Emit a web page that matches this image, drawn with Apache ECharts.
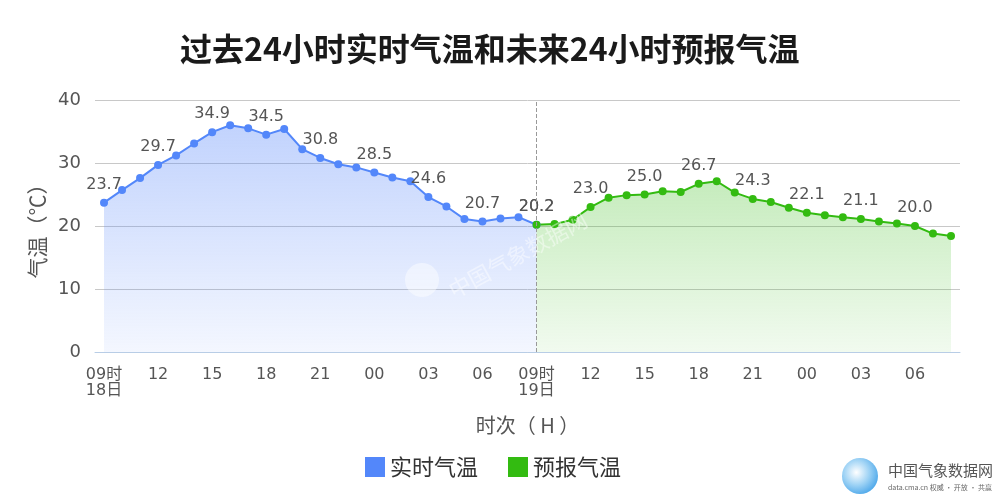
<!DOCTYPE html>
<html>
<head>
<meta charset="utf-8">
<script src="https://cdn.jsdelivr.net/npm/echarts@6/dist/echarts.min.js"></script>
<style>
  html, body { margin: 0; padding: 0; background: #fff; }
  #main { width: 1000px; height: 500px; }
</style>
</head>
<body>
<div id="main"></div>
<script>
// hour labels, 09 on the 18th through 08 on the 20th
var hours = ['09时\n18日', '10', '11', '12', '13', '14', '15', '16', '17', '18', '19', '20', '21', '22', '23',
    '00', '01', '02', '03', '04', '05', '06', '07', '08',
    '09时\n19日', '10', '11', '12', '13', '14', '15', '16', '17', '18', '19', '20', '21', '22', '23',
    '00', '01', '02', '03', '04', '05', '06', '07', '08'];
// observed temperatures (past 24 h)
var pastTemp = [23.7, 25.7, 27.6, 29.7, 31.2, 33.1, 34.9, 36.0, 35.5, 34.5, 35.4, 32.2, 30.8,
    29.8, 29.3, 28.5, 27.7, 27.1, 24.6, 23.1, 21.1, 20.7, 21.2, 21.4, 20.2];
// forecast temperatures (next 24 h), starting at the 09 19日 point
var forecastTemp = [20.2, 20.3, 21.0, 23.0, 24.5, 24.9, 25.0, 25.5, 25.4, 26.7, 27.1, 25.3,
    24.3, 23.8, 22.9, 22.1, 21.7, 21.4, 21.1, 20.7, 20.4, 20.0, 18.8, 18.4];
var yTicks = [0, 10, 20, 30, 40];

var font = "'DejaVu Sans', 'Noto Sans CJK SC', sans-serif";
var cjk = "'Noto Sans CJK SC', sans-serif";

var pastData = pastTemp.slice()
while (pastData.length < hours.length) pastData.push(null)
var forecastData = []
for (var i = 0; i < hours.length - forecastTemp.length; i++) forecastData.push(null)
forecastData = forecastData.concat(forecastTemp)
var splitIndex = hours.length - forecastTemp.length

function everyThird(p) {
    return p.dataIndex % 3 === 0 ? p.value.toFixed(1) : ''
}

var chart = echarts.init(document.getElementById('main'));
chart.setOption({
    animation: false,
    title: {
        text: '过去24小时实时气温和未来24小时预报气温',
        left: 175,
        top: 28,
        textStyle: { fontFamily: cjk, fontSize: 32, fontWeight: 'bold', color: '#1a1a1a' }
    },
    legend: {
        bottom: 17,
        left: 360,
        itemWidth: 20,
        itemHeight: 20,
        itemGap: 30,
        icon: 'rect',
        textStyle: { fontFamily: cjk, fontSize: 22, color: '#333' },
        data: ['实时气温', '预报气温']
    },
    grid: { left: 95, right: 40, top: 100, bottom: 148 },
    xAxis: {
        type: 'category',
        data: hours,
        boundaryGap: true,
        name: '时次（ H ）',
        nameLocation: 'middle',
        nameGap: 63,
        nameTextStyle: { fontFamily: cjk, fontSize: 20, color: '#555' },
        axisLine: { lineStyle: { color: '#b8cde6' } },
        axisTick: { alignWithLabel: true, interval: 2, length: 5, lineStyle: { color: '#b8cde6' } },
        axisLabel: {
            interval: 2, color: '#555', fontFamily: font, fontSize: 16, lineHeight: 16, margin: 15
        },
        splitLine: { show: false }
    },
    yAxis: {
        type: 'value',
        min: yTicks[0],
        max: yTicks[yTicks.length - 1],
        interval: 10,
        name: '气温（℃）',
        nameLocation: 'middle',
        nameGap: 42,
        nameTextStyle: { fontFamily: cjk, fontSize: 21, color: '#555' },
        axisLine: { show: false },
        axisTick: { show: false },
        axisLabel: { color: '#555', fontFamily: font, fontSize: 18, margin: 14 },
        splitLine: { lineStyle: { color: '#c8c8c8' } }
    },
    series: [
        {
            name: '实时气温',
            type: 'line',
            data: pastData,
            symbol: 'circle',
            symbolSize: 8,
            itemStyle: { color: '#5387fa' },
            lineStyle: { width: 2, color: '#5387fa' },
            label: {
                show: true, position: 'top', distance: 6, color: '#555',
                fontFamily: font, fontSize: 16, formatter: everyThird
            },
            areaStyle: {
                color: new echarts.graphic.LinearGradient(0, 0, 0, 1, [
                    { offset: 0, color: 'rgba(95,140,250,0.55)' },
                    { offset: 1, color: 'rgba(95,140,250,0.1)' }
                ])
            }
        },
        {
            name: '预报气温',
            type: 'line',
            data: forecastData,
            symbol: 'circle',
            symbolSize: 8,
            itemStyle: { color: '#33bb11' },
            lineStyle: { width: 2, color: '#33bb11' },
            label: {
                show: true, position: 'top', distance: 6, color: '#555',
                fontFamily: font, fontSize: 16, formatter: everyThird
            },
            areaStyle: {
                color: new echarts.graphic.LinearGradient(0, 0, 0, 1, [
                    { offset: 0, color: 'rgba(60,190,30,0.42)' },
                    { offset: 1, color: 'rgba(60,190,30,0.1)' }
                ])
            },
            markLine: {
                silent: true,
                symbol: 'none',
                label: { show: false },
                lineStyle: { color: '#999', type: 'dashed', width: 1 },
                data: [{ xAxis: splitIndex }]
            }
        }
    ],
    graphic: [
        // faint watermark in the plot
        {
            type: 'circle', shape: { cx: 422, cy: 280, r: 17 },
            style: { fill: 'rgba(255,255,255,0.45)' }, z: 100
        },
        {
            type: 'text', x: 445, y: 282, rotation: 0.5,
            style: { text: '中国气象数据网', fontFamily: cjk, fontSize: 22, fill: 'rgba(255,255,255,0.45)' },
            z: 100
        },
        // site logo bottom right
        {
            type: 'circle', shape: { cx: 860, cy: 476, r: 18 },
            style: {
                fill: new echarts.graphic.RadialGradient(0.4, 0.4, 0.7, [
                    { offset: 0, color: '#ffffff' },
                    { offset: 0.5, color: '#9fd3f5' },
                    { offset: 1, color: '#3fa0e8' }
                ])
            }
        },
        {
            type: 'text', x: 888, y: 463,
            style: { text: '中国气象数据网', fontFamily: cjk, fontSize: 15, fill: '#555' }
        },
        {
            type: 'text', x: 888, y: 484,
            style: { text: 'data.cma.cn 权威 · 开放 · 共赢', fontFamily: cjk, fontSize: 7, fill: '#666' }
        }
    ]
});
</script>
</body>
</html>
